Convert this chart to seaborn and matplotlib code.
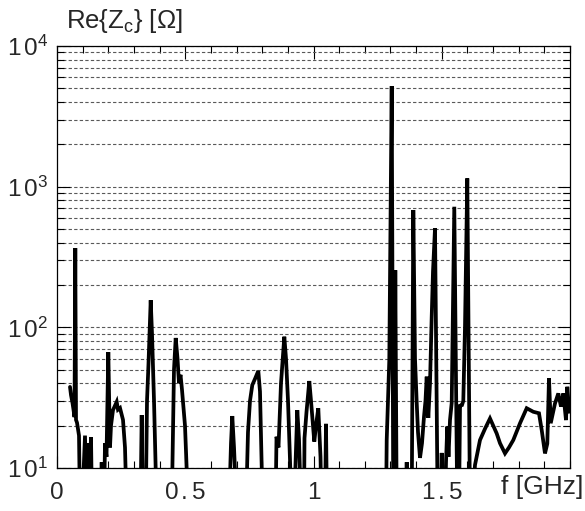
import matplotlib
matplotlib.use("Agg")
import matplotlib.pyplot as plt
import numpy as np
import pandas as pd
import seaborn as sns
from matplotlib.ticker import FixedLocator, MultipleLocator, LogLocator, NullFormatter

# ---- data (values below 10 Ohm lie below the axis) ----
freq_ghz = [
    0.0507, 0.0546, 0.0604, 0.0643, 0.0682, 0.0713, 0.0741, 0.0780, 0.0819, 0.0858,
    0.0897, 0.0975, 0.1092, 0.1150, 0.1228, 0.1267, 0.1326, 0.1365, 0.1696, 0.1743,
    0.1782, 0.1832, 0.1871, 0.1930, 0.2000, 0.2066, 0.2105, 0.2183, 0.2327, 0.2378,
    0.2456, 0.2573, 0.2651, 0.2717, 0.3255, 0.3302, 0.3345, 0.3458, 0.3509, 0.3567,
    0.3653, 0.3704, 0.3782, 0.3887, 0.4472, 0.4561, 0.4628, 0.4698, 0.4756, 0.4815,
    0.4873, 0.4990, 0.5119, 0.6706, 0.6784, 0.6834, 0.6901, 0.7006, 0.7368, 0.7446,
    0.7524, 0.7614, 0.7719, 0.7848, 0.7914, 0.8019, 0.8519, 0.8558, 0.8635, 0.8733,
    0.8862, 0.8928, 0.9006, 0.9150, 0.9240, 0.9368, 0.9435, 0.9513, 0.9630, 0.9649,
    0.9727, 0.9836, 0.9903, 1.0031, 1.0097, 1.0187, 1.0273, 1.0312, 1.0448, 1.0487,
    1.0526, 1.2827, 1.2854, 1.2955, 1.3049, 1.3111, 1.3150, 1.3189, 1.3244, 1.3587,
    1.3634, 1.3677, 1.3829, 1.3891, 1.3957, 1.4024, 1.4074, 1.4152, 1.4230, 1.4308,
    1.4366, 1.4413, 1.4476, 1.4542, 1.4608, 1.4659, 1.4737, 1.4842, 1.4951, 1.4998,
    1.5041, 1.5127, 1.5166, 1.5216, 1.5263, 1.5322, 1.5388, 1.5439, 1.5489, 1.5606,
    1.5673, 1.5712, 1.5789, 1.5840, 1.5906, 1.5996, 1.6101, 1.6168, 1.6296, 1.6491,
    1.6686, 1.6881, 1.7142, 1.7271, 1.7466, 1.7622, 1.7789, 1.8051, 1.8312, 1.8569,
    1.8791, 1.8897, 1.9025, 1.9115, 1.9181, 1.9248, 1.9415, 1.9544, 1.9649, 1.9739,
    1.9844, 1.9895, 1.9973, 2.0000,
]
re_zc_ohm = [
    37.7, 33, 29, 26, 23, 366, 22, 21, 19, 17,
    5, 5, 17, 5, 15, 8, 16.6, 5, 5, 11,
    5, 5, 15, 12, 66.7, 14, 20, 25.8, 29.5, 26,
    26.7, 22, 14, 5, 5, 23.8, 5, 5, 30, 55,
    156, 90, 30, 5, 5, 50, 84, 60, 40, 46,
    36, 20, 5, 5, 15, 23.4, 14, 5, 5, 18,
    30, 38.9, 43, 49, 35, 5, 5, 16.7, 14, 40,
    85.8, 60, 30, 5, 5, 25.8, 16, 5, 5, 16.3,
    25, 41.5, 30, 15.4, 20, 26.6, 12, 5, 5, 20.6,
    5, 5, 15.8, 58.6, 5190, 5, 5, 255, 5, 5,
    11, 5, 5, 682, 60, 29, 18, 11.8, 15, 23.2,
    30, 44.6, 22.7, 40, 118, 250, 506, 5, 5, 12.8,
    5, 5, 11, 19.7, 12, 22, 29, 150, 720, 5,
    5, 27.7, 28, 30, 100, 1146, 5, 5, 10.5, 15.8,
    19, 22.5, 17.6, 15, 12.7, 14, 15.8, 20.8, 26.6, 25.1,
    24.5, 18.6, 12.7, 14.9, 43.4, 20.8, 28.8, 33.9, 27.3, 33.9,
    21.9, 37.8, 24.5, 30,
]
x_tick_values = [0, 0.5, 1, 1.5]
x_tick_labels = ["0", r"$\mathregular{0\,.5}$", "1", r"$\mathregular{1\,.5}$"]
y_tick_values = [10, 100, 1000, 10000]
y_tick_labels = [r"$\mathregular{1\,0^{1}}$", r"$\mathregular{1\,0^{2}}$",
                 r"$\mathregular{1\,0^{3}}$", r"$\mathregular{1\,0^{4}}$"]
title_text = "Re{Z$_{\\mathregular{c}}$} [Ω]"
xlabel_text = "f [GHz]"

sns.set_style("ticks")
plt.rcParams["font.family"] = ["Liberation Sans", "DejaVu Sans"]
plt.rcParams["mathtext.fontset"] = "custom"
plt.rcParams["mathtext.rm"] = "Liberation Sans"
plt.rcParams["mathtext.it"] = "Liberation Sans"

W, H = 585, 511
fig = plt.figure(figsize=(W / 100, H / 100), dpi=100)
fig.patch.set_facecolor("white")
ax = fig.add_axes([57 / W, 43 / H, 513 / W, 422 / H])
ax.set_facecolor("white")

df = pd.DataFrame({"f": freq_ghz, "z": re_zc_ohm})
sns.lineplot(data=df, x="f", y="z", sort=False, estimator=None,
             color="black", linewidth=2.7, ax=ax, zorder=3)
ax.lines[0].set_solid_joinstyle("miter")

ax.set_yscale("log")
ax.set_xlim(0, 2.0)
ax.set_ylim(10, 1e4)
ax.set_xlabel("")
ax.set_ylabel("")

ax.xaxis.set_major_locator(FixedLocator(x_tick_values))
ax.set_xticklabels(x_tick_labels)
ax.xaxis.set_minor_locator(MultipleLocator(0.1))
ax.yaxis.set_major_locator(FixedLocator(y_tick_values))
ax.set_yticklabels(y_tick_labels)
ax.yaxis.set_minor_locator(LogLocator(base=10, subs=np.arange(2, 10), numticks=20))
ax.yaxis.set_minor_formatter(NullFormatter())

ax.tick_params(which="both", direction="in", top=True, right=True,
               color="black", width=0.8)
ax.tick_params(which="major", length=9)
ax.tick_params(which="minor", length=5)
ax.tick_params(axis="x", which="major", labelsize=17.5, pad=10)
ax.tick_params(axis="y", which="major", labelsize=17.5, pad=6)

ax.yaxis.grid(True, which="both", linestyle=(0, (3, 2)), color="0.35", linewidth=0.8)
ax.xaxis.grid(False)
ax.set_axisbelow(True)
for s in ax.spines.values():
    s.set_color("black")
    s.set_linewidth(0.9)

fig.text(66 / W, 1 - 28 / H, title_text, fontsize=18.5, ha="left", va="baseline")
fig.text(583 / W, 1 - 494 / H, xlabel_text, fontsize=19, ha="right", va="baseline")

fig.savefig("out.png", dpi=100, facecolor="white")
